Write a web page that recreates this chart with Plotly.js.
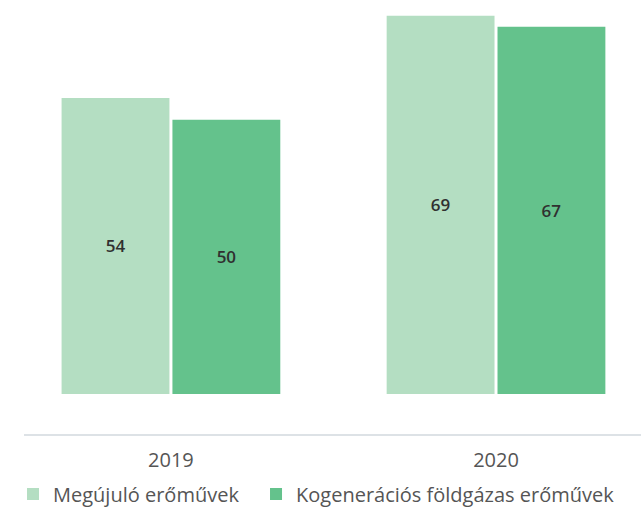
<!DOCTYPE html>
<html>
<head>
<meta charset="utf-8">
<script src="https://cdn.plot.ly/plotly-3.0.1.min.js"></script>
<style>html,body{margin:0;padding:0;background:#fff;}#chart{width:642px;height:509px;}</style>
</head>
<body>
<div id="chart"></div>
<script>
var categories = ['2019', '2020'];
var seriesNames = ['Megújuló erőművek', 'Kogenerációs földgázas erőművek'];
var renewables = [54, 69];
var cogeneration = [50, 67];
var colors = ['#b4dec2', '#64c28c'];
var legendWidths = [198, 340];

var font = '"Open Sans", Lato, sans-serif';
var traces = [renewables, cogeneration].map(function (vals, i) {
  return {
    type: 'bar',
    name: seriesNames[i],
    x: categories,
    y: vals,
    marker: {color: colors[i]},
    text: vals.map(String),
    textposition: 'inside',
    insidetextanchor: 'middle',
    textfont: {family: font, size: 17, weight: 600, color: '#303030'},
    legendwidth: legendWidths[i],
    hoverinfo: 'none'
  };
});

var layout = {
  width: 642, height: 509,
  margin: {l: 24, r: 1, t: 5, b: 75, autoexpand: false},
  paper_bgcolor: '#fff', plot_bgcolor: '#fff',
  barmode: 'group',
  bargap: 0.318,
  bargroupgap: 0.027,
  font: {family: font, color: '#555'},
  xaxis: {
    type: 'category',
    range: [-0.452, 1.446],
    showline: true, linecolor: '#dde2e6', linewidth: 2,
    showgrid: false, zeroline: false, ticks: '',
    ticklabelstandoff: 7,
    tickfont: {family: font, size: 20, color: '#555'}
  },
  yaxis: {
    range: [-7.295, 70.95],
    visible: false, showgrid: false, zeroline: false
  },
  showlegend: true,
  legend: {
    orientation: 'h', x: -0.0178, xanchor: 'left', y: -0.14, yanchor: 'middle',
    font: {family: font, size: 20, color: '#555'},
    itemwidth: 30
  }
};

Plotly.newPlot('chart', traces, layout, {displayModeBar: false, staticPlot: true});
</script>
</body>
</html>
